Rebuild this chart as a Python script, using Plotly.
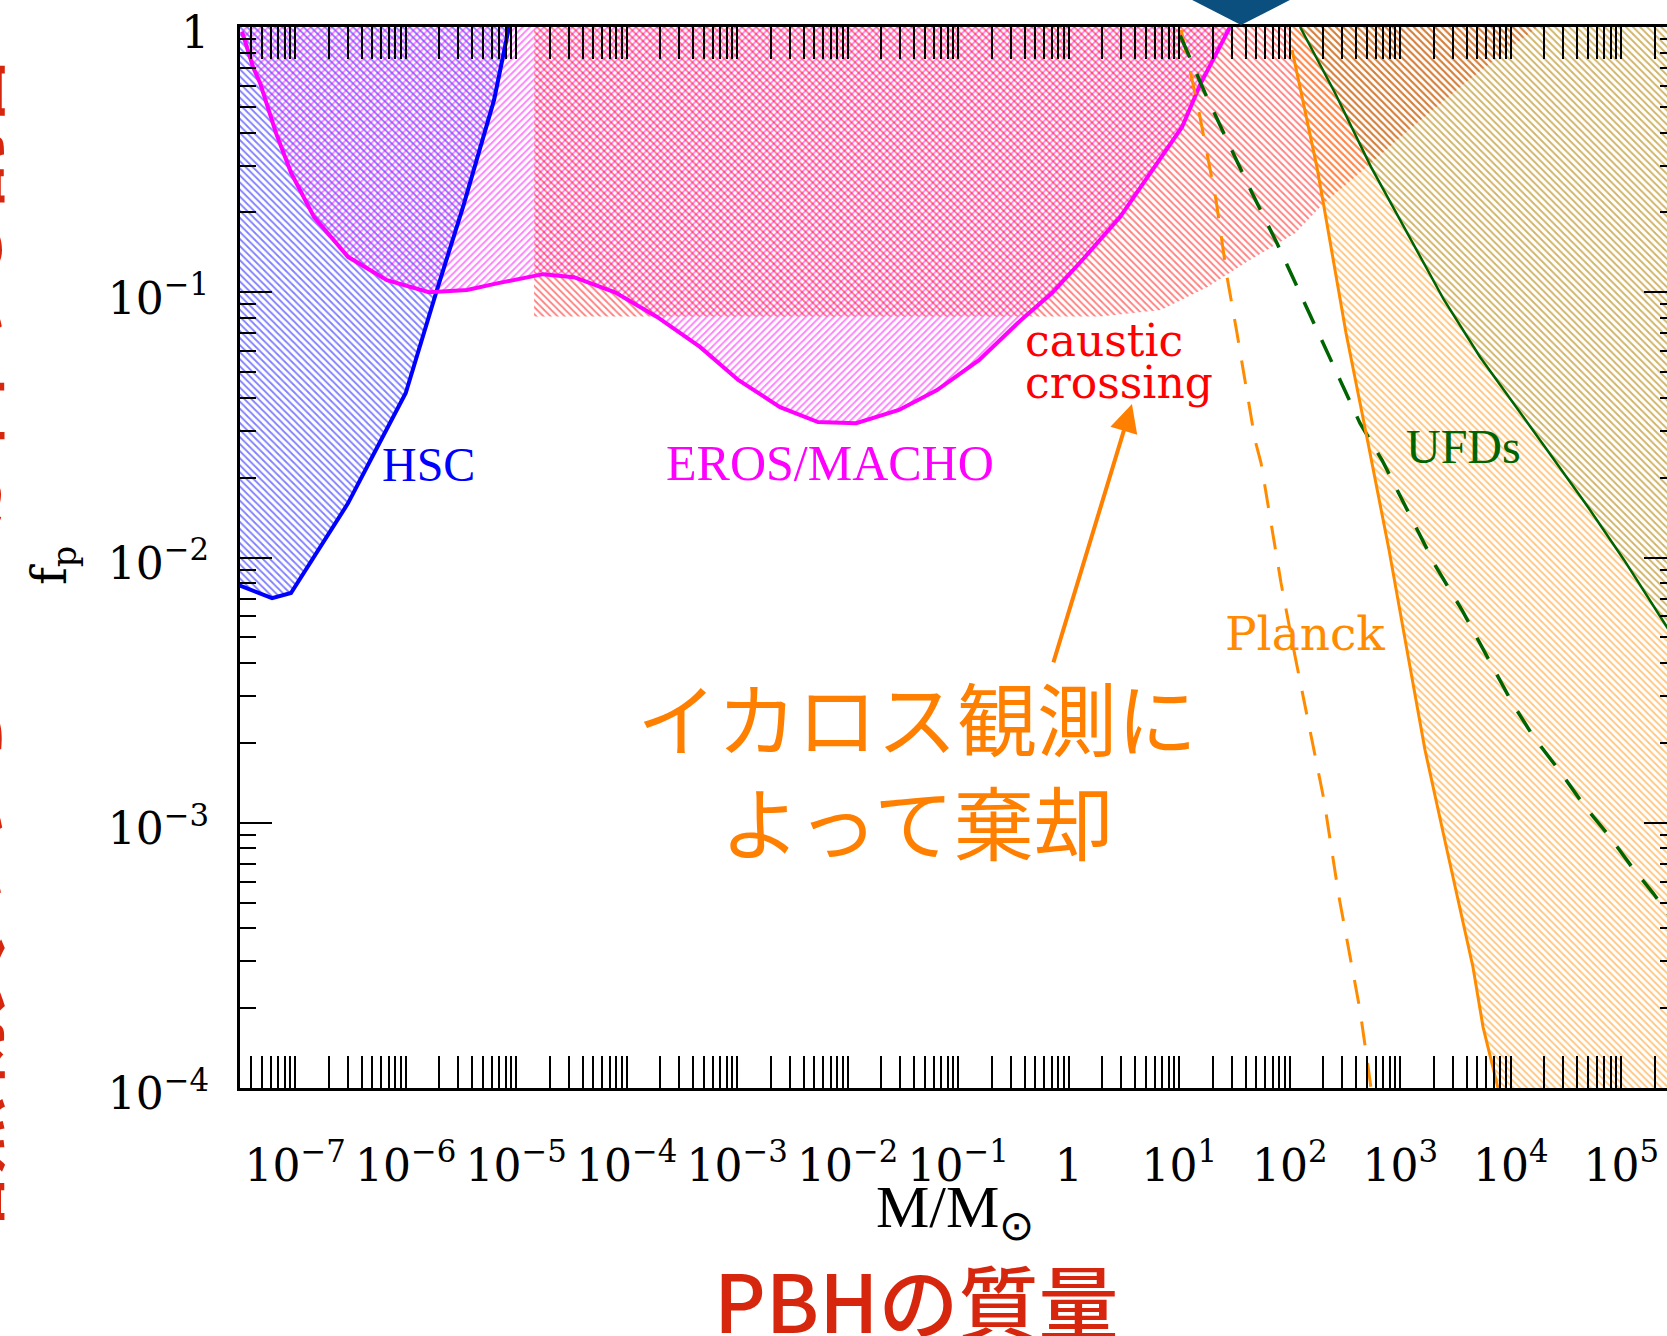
import plotly.graph_objects as go

# ---------------- data ----------------
# HSC microlensing bound (blue)
HSC_M = [3.0e-8, 6.17e-8, 9.15e-8, 1.71e-7, 3.0e-7, 5.06e-7, 1.0e-6, 1.88e-6, 3.30e-6, 6.3e-6, 8.6e-6]
HSC_F = [7.9e-3, 7.03e-3, 7.35e-3, 1.10e-2, 1.60e-2, 2.43e-2, 4.17e-2, 9.94e-2, 0.21, 0.531, 1.0]

# EROS/MACHO bound (magenta)
EROS_M = [3.3e-8, 4.15e-8, 4.80e-8, 6.70e-8, 9.17e-8, 1.48e-7, 3.0e-7, 6.76e-7, 1.62e-6, 3.58e-6,
          6.70e-6, 1.75e-5, 3.33e-5, 7.83e-5, 1.88e-4, 4.60e-4, 1.02e-3, 2.44e-3, 5.38e-3, 1.19e-2,
          2.91e-2, 6.43e-2, 0.154, 0.370, 0.705, 1.32, 2.91, 6.03, 10.6, 15.7, 24.9, 28.8]
EROS_F = [0.96, 0.707, 0.615, 0.398, 0.282, 0.192, 0.136, 0.111, 0.100, 0.102,
          0.108, 0.117, 0.114, 0.100, 0.0807, 0.0622, 0.0467, 0.0369, 0.0324, 0.0321,
          0.0360, 0.0428, 0.0555, 0.0786, 0.0993, 0.132, 0.192, 0.297, 0.420, 0.615, 0.893, 1.0]

# caustic crossing bound (red)
CAUSTIC_M = [1.45e-5, 1.92, 6.84, 18.2, 39.4, 112, 204, 432, 935, 1820, 3850, 7670, 17500]
CAUSTIC_F = [0.081, 0.081, 0.0857, 0.105, 0.129, 0.167, 0.217, 0.282, 0.375, 0.474, 0.615, 0.771, 1.0]

# Planck (orange, solid)
PLANCK_M = [105, 176, 204, 323, 511, 791, 1150, 1675, 2650, 3330, 4550, 5610, 7670]
PLANCK_F = [0.819, 0.297, 0.210, 0.0702, 0.0270, 0.0107, 4.48e-3, 1.88e-3, 7.88e-4, 5.11e-4, 2.86e-4, 1.70e-4, 1.0e-4]

# Planck (orange, dashed)
PLANCK2_M = [10.4, 14.8, 21.5, 27.1, 33.3, 48.5, 55.0, 83.4, 112, 153, 204, 279, 351, 432, 521, 543]
PLANCK2_F = [0.974, 0.499, 0.223, 0.114, 0.0702, 0.0277, 0.0227, 8.01e-3, 4.22e-3, 2.18e-3, 1.22e-3,
             5.25e-4, 3.12e-4, 1.97e-4, 1.14e-4, 1.0e-4]

# UFDs (dark green, solid)
UFD_M = [124, 257, 543, 1150, 2490, 5270, 11200, 20400, 50000, 1.06e5, 2.59e5, 4.19e5]
UFD_F = [1.0, 0.564, 0.297, 0.167, 0.0935, 0.0570, 0.0370, 0.0261, 0.0155, 9.79e-3, 5.47e-3, 4.04e-3]

# UFDs (dark green, dashed)
UFD2_M = [10.2, 17.1, 27.0, 45.5, 76.7, 132, 236, 432, 684, 1250, 2110, 3620, 6100, 10300, 16200,
          27300, 47000, 79100, 1.25e5, 1.94e5, 3.40e5]
UFD2_F = [0.93, 0.564, 0.375, 0.237, 0.153, 0.0935, 0.0555, 0.0321, 0.0233, 0.0142, 9.21e-3, 6.34e-3,
          4.22e-3, 2.83e-3, 2.10e-3, 1.58e-3, 1.15e-3, 8.83e-4, 6.81e-4, 5.43e-4, 3.94e-4]

# ticks
X_TICKVALS = [1e-7, 1e-6, 1e-5, 1e-4, 1e-3, 1e-2, 1e-1, 1, 1e1, 1e2, 1e3, 1e4, 1e5]
X_TICKTEXT = ["10<sup>−7</sup>", "10<sup>−6</sup>", "10<sup>−5</sup>", "10<sup>−4</sup>",
              "10<sup>−3</sup>", "10<sup>−2</sup>", "10<sup>−1</sup>", "1",
              "10<sup>1</sup>", "10<sup>2</sup>", "10<sup>3</sup>", "10<sup>4</sup>", "10<sup>5</sup>"]
Y_TICKVALS = [1e-4, 1e-3, 1e-2, 1e-1, 1]
Y_TICKTEXT = ["10<sup>−4</sup>", "10<sup>−3</sup>", "10<sup>−2</sup>", "10<sup>−1</sup>", "1"]

# ---------------- styles ----------------
LEFT, RIGHT, TOP, BOTTOM = 1e-8, 1e7, 2.0, 5e-5   # closure corners outside the view
BLUE, MAGENTA, RED, ORANGE, GREEN = "#0000FF", "#FF00FF", "#FF0000", "#FF8C00", "#006400"
TXT_ORANGE = "#FF8000"
SERIF = "DejaVu Serif"
TIMES = "Liberation Serif"
CJK = "Noto Sans CJK JP"
PAT_SIZE, PAT_SOLID = 5, 0.36

fig = go.Figure()


def region(xs, ys, shape, color):
    fig.add_trace(go.Scatter(
        x=xs, y=ys, mode="lines", fill="toself", line=dict(width=0, color="rgba(0,0,0,0)"),
        fillcolor="rgba(0,0,0,0)",
        fillpattern=dict(shape=shape, fgcolor=color, bgcolor="rgba(0,0,0,0)",
                         size=PAT_SIZE, solidity=PAT_SOLID),
        hoverinfo="skip", showlegend=False))


def curve(xs, ys, color, width, dash="solid"):
    fig.add_trace(go.Scatter(x=xs, y=ys, mode="lines",
                             line=dict(color=color, width=width, dash=dash),
                             hoverinfo="skip", showlegend=False))


# hatched regions
region([LEFT] + HSC_M + [HSC_M[-1], LEFT], [HSC_F[0]] + HSC_F + [TOP, TOP], "\\", BLUE)
region([LEFT] + EROS_M + [EROS_M[-1], LEFT], [EROS_F[0]] + EROS_F + [TOP, TOP], "/", MAGENTA)
region([CAUSTIC_M[0]] + CAUSTIC_M + [CAUSTIC_M[-1]], [TOP] + CAUSTIC_F + [TOP], "\\", RED)
region(PLANCK_M + [RIGHT, RIGHT, PLANCK_M[0]], PLANCK_F + [BOTTOM, TOP, TOP], "\\", ORANGE)
region(UFD_M + [RIGHT, RIGHT, UFD_M[0]], UFD_F + [UFD_F[-1], TOP, TOP], "\\", "rgba(0,100,0,0.38)")

# boundary curves
curve(HSC_M, HSC_F, BLUE, 4)
curve(EROS_M, EROS_F, MAGENTA, 4)
curve(PLANCK2_M, PLANCK2_F, ORANGE, 3, "24px,18px")
curve(UFD2_M, UFD2_F, GREEN, 3.5, "24px,18px")
curve(PLANCK_M, PLANCK_F, ORANGE, 3)
curve(UFD_M, UFD_F, GREEN, 2.5)

# dummy trace for the right-hand tick axis
fig.add_trace(go.Scatter(x=[1], y=[1e-2], yaxis="y2", mode="markers", marker=dict(opacity=0),
                         showlegend=False, hoverinfo="skip"))

tickfont = dict(family=SERIF, size=44, color="black")
fig.update_layout(
    width=1667, height=1336, autosize=False,
    margin=dict(l=240, r=0, t=27, b=248, pad=0, autoexpand=False),
    paper_bgcolor="white", plot_bgcolor="white",
    showlegend=False,
    xaxis=dict(type="log", range=[-7.5, 5.414], showgrid=False, zeroline=False, automargin=False,
               tickmode="array", tickvals=X_TICKVALS, ticktext=X_TICKTEXT,
               ticks="inside", ticklen=32, tickwidth=2, tickcolor="black",
               showline=True, linewidth=3, linecolor="black", mirror="allticks",
               tickfont=tickfont, ticklabelstandoff=37,
               minor=dict(ticks="inside", ticklen=16, tickwidth=2, tickcolor="black",
                          dtick="D1", showgrid=False)),
    yaxis=dict(type="log", range=[-4, 0], showgrid=False, zeroline=False, automargin=False,
               tickmode="array", tickvals=Y_TICKVALS, ticktext=Y_TICKTEXT,
               ticks="inside", ticklen=32, tickwidth=2, tickcolor="black",
               showline=True, linewidth=3, linecolor="black", mirror=False,
               tickfont=tickfont, ticklabelstandoff=19, ticklabelshift=6,
               minor=dict(ticks="inside", ticklen=16, tickwidth=2, tickcolor="black",
                          dtick="D1", showgrid=False)),
    yaxis2=dict(type="log", range=[-4, 0], overlaying="y", side="right", anchor="x",
                automargin=False,
                showgrid=False, zeroline=False, showline=False, showticklabels=False,
                tickmode="array", tickvals=Y_TICKVALS,
                ticks="inside", ticklen=23, tickwidth=2, tickcolor="black",
                minor=dict(ticks="inside", ticklen=7, tickwidth=2, tickcolor="black",
                           dtick="D1", showgrid=False)),
)

# region labels (positions in log10 units)
labels = [
    ("HSC", -6.233, -1.651, BLUE, TIMES, 48, "left"),
    ("EROS/MACHO", -2.161, -1.644, MAGENTA, TIMES, 50, "center"),
    ("caustic", -0.414, -1.182, RED, SERIF, 44, "left"),
    ("crossing", -0.414, -1.340, RED, SERIF, 44, "left"),
    ("Planck", 1.396, -2.285, ORANGE, SERIF, 47, "left"),
    ("UFDs", 3.034, -1.583, GREEN, TIMES, 48, "left"),
]
for text, lx, ly, col, fam, sz, anc in labels:
    fig.add_annotation(x=lx, y=ly, xref="x", yref="y", text=text, showarrow=False,
                       xanchor=anc, yanchor="middle", align="left",
                       font=dict(family=fam, size=sz, color=col))

# Japanese note with arrow
fig.add_annotation(x=-1.373, y=-2.79, xref="x", yref="y", text="イカロス観測に<br>よって棄却",
                   showarrow=False, xanchor="center", yanchor="middle", align="center",
                   font=dict(family=CJK, size=80, color=TXT_ORANGE))
fig.add_annotation(x=0.572, y=-1.421, xref="x", yref="y", text="", showarrow=True,
                   ax=-79, ay=260, axref="pixel", ayref="pixel",
                   arrowhead=2, arrowsize=1.4, arrowwidth=4, arrowcolor=TXT_ORANGE)

# axis titles
fig.add_annotation(x=0.501, y=-0.116, xref="paper", yref="paper", text="M/M<sub>⊙</sub>",
                   showarrow=False, xanchor="center", yanchor="middle",
                   font=dict(family=TIMES, size=60, color="black"))
fig.add_annotation(x=-0.131, y=0.492, xref="paper", yref="paper", text="f<sub>p</sub>",
                   showarrow=False, textangle=-90, xanchor="center", yanchor="middle",
                   font=dict(family=SERIF, size=48, color="black"))
fig.add_annotation(x=0.4737, y=-0.198, xref="paper", yref="paper", text="PBHの質量",
                   showarrow=False, xanchor="center", yanchor="middle",
                   font=dict(family=CJK, size=80, color="#D7260E", weight=500))
# partially visible red vertical caption at the left edge
fig.add_annotation(x=-0.1945, y=0.41, xref="paper", yref="paper", text="暗黒物質のうちPBHが占める割合",
                   showarrow=False, textangle=-90, xanchor="center", yanchor="middle",
                   font=dict(family=CJK, size=80, color="#D7260E", weight=500))

# blue marker at the top edge
fig.add_shape(type="path", xref="paper", yref="paper",
              path="M 0.6672 1.0255 L 0.7358 1.0255 L 0.7015 1.0019 Z",
              fillcolor="#0A4F7E", line=dict(width=0), layer="above")

fig.write_html("out.html", config={"displayModeBar": False},
               post_script="document.body.style.margin='0';document.body.style.overflow='hidden';")
